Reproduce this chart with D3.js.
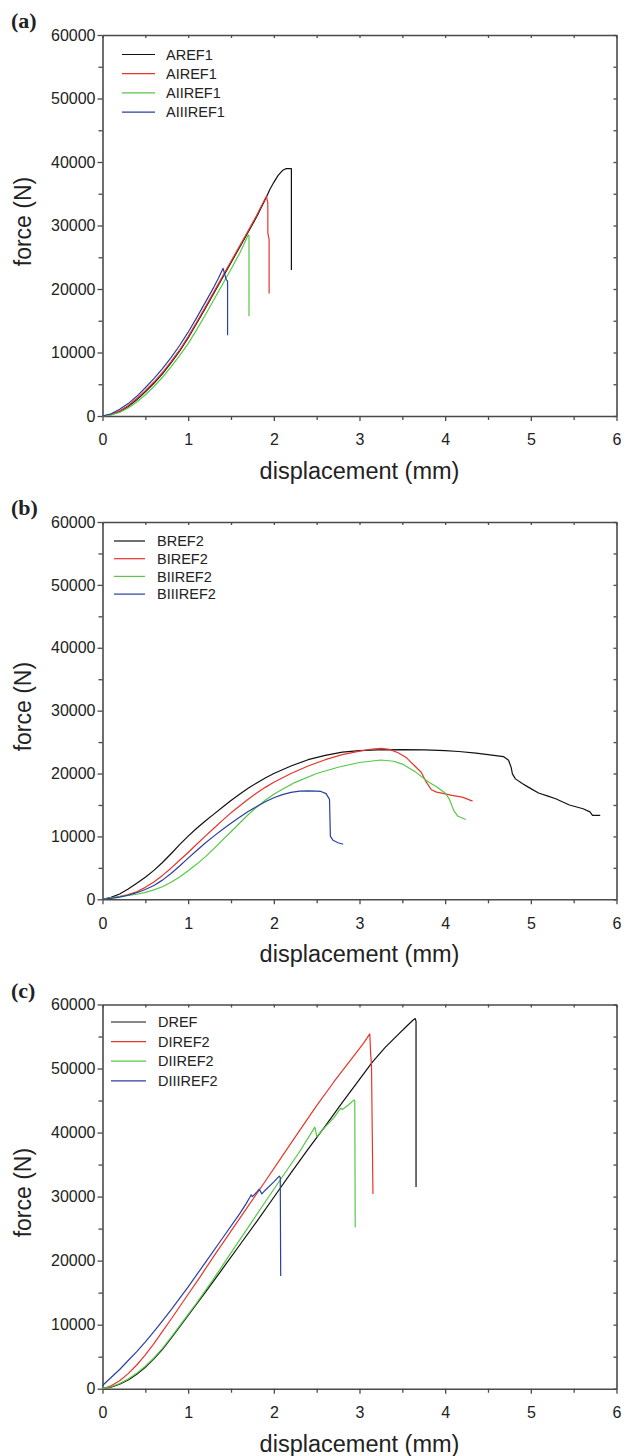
<!DOCTYPE html>
<html><head><meta charset="utf-8">
<script src="https://cdn.jsdelivr.net/npm/d3@7"></script>
<style>body{margin:0;background:#fff}svg{display:block}</style>
</head><body>
<svg id="chart" width="627" height="1456"></svg>
<script>
// ---------- DATA ----------
const panelLabels = ["(a)", "(b)", "(c)"];
const xTicks = [0, 1, 2, 3, 4, 5, 6];
const yTicks = [0, 10000, 20000, 30000, 40000, 50000, 60000];
const xTitle = "displacement (mm)";
const yTitle = "force (N)";
const seriesColors = ["#111111", "#e8352a", "#55c845", "#2940a3"];

const namesA = ["AREF1", "AIREF1", "AIIREF1", "AIIIREF1"];
const aref1 = [[0,0],[0.1,200],[0.2,700],[0.3,1500],[0.4,2550],[0.5,3800],[0.6,5150],[0.7,6650],[0.8,8350],[0.9,10200],[1.0,12300],[1.1,14600],[1.2,16950],[1.3,19350],[1.4,21750],[1.5,24150],[1.6,26550],[1.7,28950],[1.8,31400],[1.914,34500],[1.95,35600],[2.0,36800],[2.05,37900],[2.1,38650],[2.14,38950],[2.2,38950],[2.205,38950],[2.205,23000]];
const airef1 = [[0,0],[0.1,250],[0.2,800],[0.3,1650],[0.4,2750],[0.5,4000],[0.6,5350],[0.7,6850],[0.8,8550],[0.9,10400],[1.0,12500],[1.1,14800],[1.2,17150],[1.3,19550],[1.4,21950],[1.5,24350],[1.6,26750],[1.7,29150],[1.8,31600],[1.914,34650],[1.93,33500],[1.93,28800],[1.945,27800],[1.945,19300]];
const aiiref1 = [[0,0],[0.1,150],[0.2,550],[0.3,1250],[0.4,2200],[0.5,3350],[0.6,4650],[0.7,6100],[0.8,7750],[0.9,9500],[1.0,11400],[1.1,13600],[1.2,15900],[1.3,18300],[1.4,20700],[1.5,23100],[1.6,25600],[1.65,27000],[1.70,28500],[1.71,28400],[1.71,15700]];
const aiiiref1 = [[0,0],[0.1,350],[0.2,1050],[0.3,1950],[0.4,3100],[0.5,4450],[0.6,5900],[0.7,7450],[0.8,9200],[0.9,11100],[1.0,13200],[1.1,15500],[1.2,17900],[1.3,20300],[1.35,21600],[1.408,23260],[1.443,21530],[1.455,21300],[1.46,21300],[1.46,12700]];

const namesB = ["BREF2", "BIREF2", "BIIREF2", "BIIIREF2"];
const bref2 = [[0,0],[0.1,300],[0.2,850],[0.3,1650],[0.4,2550],[0.5,3500],[0.6,4600],[0.7,5850],[0.8,7250],[0.9,8700],[1.0,10050],[1.1,11300],[1.2,12450],[1.3,13550],[1.4,14650],[1.5,15700],[1.6,16700],[1.7,17650],[1.8,18500],[1.9,19300],[2.0,20000],[2.2,21200],[2.4,22200],[2.6,22900],[2.8,23400],[3.0,23650],[3.2,23750],[3.5,23800],[3.76,23750],[4.0,23650],[4.16,23500],[4.36,23250],[4.5,23000],[4.68,22700],[4.74,22100],[4.77,21000],[4.785,19950],[4.82,19150],[4.9,18400],[4.97,17840],[5.09,16900],[5.2,16400],[5.29,15990],[5.45,15000],[5.61,14400],[5.69,13900],[5.72,13350],[5.81,13350]];
const biref2 = [[0,0],[0.1,250],[0.2,450],[0.3,750],[0.4,1200],[0.5,1900],[0.6,2750],[0.7,3800],[0.8,4950],[0.9,6200],[1.0,7450],[1.1,8750],[1.2,10050],[1.3,11300],[1.4,12550],[1.5,13750],[1.6,14850],[1.7,15900],[1.8,16900],[1.9,17800],[2.0,18600],[2.2,20000],[2.4,21200],[2.6,22200],[2.8,23000],[3.0,23550],[3.15,23900],[3.25,24000],[3.35,23850],[3.45,23300],[3.55,22500],[3.64,21270],[3.72,20210],[3.78,18630],[3.84,17410],[3.9,17050],[3.96,16890],[4.08,16520],[4.2,16250],[4.32,15620]];
const biiref2 = [[0,0],[0.1,250],[0.2,450],[0.3,600],[0.4,800],[0.5,1100],[0.6,1500],[0.7,2000],[0.8,2700],[0.9,3550],[1.0,4550],[1.1,5600],[1.2,6750],[1.3,8050],[1.4,9400],[1.5,10750],[1.6,12100],[1.7,13450],[1.8,14650],[1.9,15750],[2.0,16700],[2.1,17500],[2.25,18600],[2.5,20000],[2.75,21000],[3.0,21750],[3.25,22150],[3.4,21950],[3.5,21500],[3.65,20300],[3.8,18700],[3.9,17900],[4.0,16900],[4.05,15900],[4.1,14100],[4.15,13200],[4.24,12700]];
const biiiref2 = [[0,0],[0.1,150],[0.2,350],[0.3,650],[0.4,1050],[0.5,1550],[0.6,2200],[0.7,3050],[0.8,4100],[0.9,5300],[1.0,6550],[1.1,7750],[1.2,8950],[1.3,10050],[1.4,11100],[1.5,12100],[1.6,13050],[1.7,13950],[1.8,14750],[1.9,15500],[2.0,16150],[2.1,16650],[2.2,17000],[2.3,17200],[2.4,17250],[2.5,17200],[2.55,17150],[2.61,16800],[2.65,15900],[2.66,10000],[2.69,9400],[2.75,9000],[2.81,8750]];

const namesC = ["DREF", "DIREF2", "DIIREF2", "DIIIREF2"];
const dref = [[0,0],[0.1,250],[0.2,700],[0.3,1350],[0.4,2250],[0.5,3350],[0.6,4650],[0.7,6150],[0.8,7850],[0.9,9650],[1.0,11450],[1.2,15050],[1.4,18700],[1.6,22400],[1.8,26100],[2.0,29900],[2.2,33700],[2.4,37400],[2.6,41000],[2.8,44700],[3.0,48300],[3.15,51000],[3.3,53300],[3.45,55300],[3.55,56600],[3.62,57500],[3.65,57800],[3.66,57400],[3.66,31500]];
const diref2 = [[0,0],[0.1,450],[0.2,1250],[0.3,2350],[0.4,3700],[0.5,5300],[0.6,7050],[0.7,8950],[0.8,10850],[0.9,12800],[1.0,14750],[1.126,17200],[1.3,20700],[1.5,24600],[1.7,28500],[1.9,32400],[2.1,36350],[2.3,40300],[2.5,44200],[2.7,47900],[2.9,51400],[3.05,54000],[3.12,55400],[3.13,52400],[3.14,50500],[3.157,30400]];
const diiref2 = [[0,0],[0.1,300],[0.2,800],[0.3,1500],[0.4,2400],[0.5,3500],[0.6,4800],[0.7,6300],[0.8,8000],[0.9,9800],[1.0,11600],[1.1,13400],[1.289,17000],[1.5,21200],[1.7,25200],[1.9,29200],[2.1,33100],[2.3,37000],[2.479,40840],[2.502,39380],[2.6,40900],[2.7,42300],[2.76,43440],[2.78,43800],[2.8,43600],[2.87,44300],[2.936,45110],[2.945,44800],[2.95,25220]];
const diiiref2 = [[0,500],[0.1,1750],[0.2,3000],[0.3,4400],[0.4,5800],[0.5,7300],[0.6,8900],[0.7,10600],[0.8,12300],[0.9,14100],[1.0,15900],[1.2,19700],[1.4,23500],[1.6,27300],[1.677,28900],[1.72,29900],[1.735,30270],[1.75,30000],[1.8,30700],[1.83,31150],[1.86,30420],[1.9,31000],[2.0,32300],[2.064,33200],[2.075,33000],[2.08,17600]];

// ---------- LAYOUT ----------
const svg = d3.select("#chart");
const panels = [
  {top: 35,   bottom: 416,   names: namesA, series: [aref1, airef1, aiiref1, aiiiref1], leg: {x1: 122, x2: 155, tx: 166, y0: 19.5, dy: 19.2}},
  {top: 522,  bottom: 899.3, names: namesB, series: [bref2, biref2, biiref2, biiiref2], leg: {x1: 114, x2: 145, tx: 157, y0: 19,   dy: 17.7}},
  {top: 1004.5, bottom: 1388.7, names: namesC, series: [dref, diref2, diiref2, diiiref2], leg: {x1: 111, x2: 146, tx: 158, y0: 17.5, dy: 19.6}}
];
const left = 102.5, right = 616.5;
const axisColor = "#4a4a4a";
const font = "Liberation Sans, Arial, sans-serif";

panels.forEach((p, i) => {
  const x = d3.scaleLinear().domain([0, 6]).range([left, right]);
  const y = d3.scaleLinear().domain([0, 60000]).range([p.bottom, p.top]);
  const g = svg.append("g");
  const minorX = d3.range(0.5, 6, 1);
  const minorY = d3.range(5000, 60000, 10000);

  g.append("g").attr("transform", `translate(0,${p.bottom})`)
    .call(d3.axisBottom(x).tickValues(xTicks).tickSize(5).tickSizeOuter(0).tickPadding(13).tickFormat(d3.format("d")));
  g.append("g").attr("transform", `translate(0,${p.bottom})`)
    .call(d3.axisBottom(x).tickValues(minorX).tickSize(4).tickSizeOuter(0).tickFormat(""))
    .call(s => s.select(".domain").remove());
  g.append("g").attr("transform", `translate(${left},0)`)
    .call(d3.axisLeft(y).tickValues(yTicks).tickSize(5).tickSizeOuter(0).tickPadding(2).tickFormat(d3.format("d")));
  g.append("g").attr("transform", `translate(${left},0)`)
    .call(d3.axisLeft(y).tickValues(minorY).tickSize(4).tickSizeOuter(0).tickFormat(""))
    .call(s => s.select(".domain").remove());
  g.append("g").attr("transform", `translate(0,${p.top})`)
    .call(d3.axisTop(x).tickValues(d3.range(0, 6.01, 0.5)).tickSize(-3).tickSizeOuter(0).tickFormat(""));
  g.append("g").attr("transform", `translate(${right},0)`)
    .call(d3.axisRight(y).tickValues(d3.range(0, 60001, 5000)).tickSize(-3).tickSizeOuter(0).tickFormat(""));

  g.selectAll(".domain").attr("stroke", axisColor).attr("stroke-width", 1.6);
  g.selectAll(".tick line").attr("stroke", axisColor).attr("stroke-width", 1.3);
  g.selectAll(".tick text").attr("font-family", font).attr("font-size", 16).attr("fill", "#222");

  const line = d3.line().x(d => x(d[0])).y(d => y(d[1]));
  p.series.forEach((s, k) => {
    g.append("path").datum(s).attr("d", line).attr("fill", "none")
      .attr("stroke", seriesColors[k]).attr("stroke-width", 1.2).attr("stroke-linejoin", "round");
  });

  p.names.forEach((n, k) => {
    const yy = p.top + p.leg.y0 + k * p.leg.dy;
    g.append("line").attr("x1", p.leg.x1).attr("x2", p.leg.x2).attr("y1", yy).attr("y2", yy)
      .attr("stroke", seriesColors[k]).attr("stroke-width", 1.2);
    g.append("text").attr("x", p.leg.tx).attr("y", yy).attr("dy", "0.36em")
      .attr("font-family", font).attr("font-size", 14.5).attr("fill", "#222").text(n);
  });

  g.append("text").attr("x", (left + right) / 2).attr("y", p.bottom + 63).attr("text-anchor", "middle")
    .attr("font-family", font).attr("font-size", 23.5).attr("fill", "#222").text(xTitle);
  g.append("text").attr("transform", `translate(31,${(p.top + p.bottom) / 2 - 4}) rotate(-90)`).attr("text-anchor", "middle")
    .attr("font-family", font).attr("font-size", 23).attr("fill", "#222").text(yTitle);

  g.append("text").attr("x", 11).attr("y", p.top - 7).attr("font-family", "Liberation Serif, Times New Roman, serif")
    .attr("font-weight", "bold").attr("font-size", 22).attr("fill", "#222").text(panelLabels[i]);
});
</script>
</body></html>
